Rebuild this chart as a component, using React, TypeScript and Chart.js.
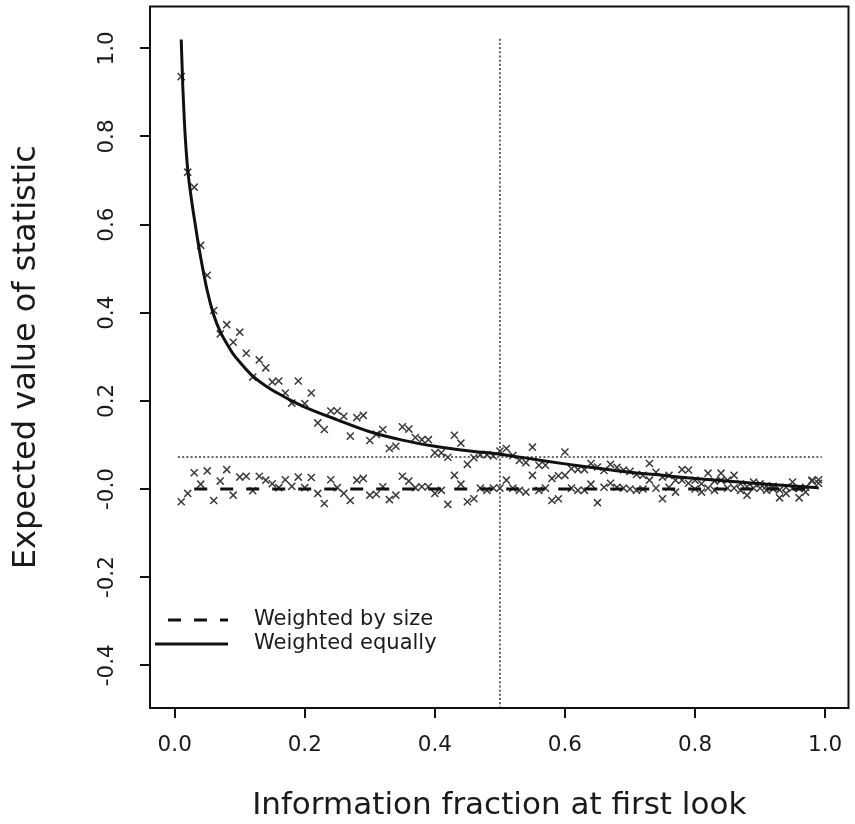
import React, { useEffect, useRef } from "react";
import { Chart, registerables } from "chart.js";

Chart.register(...registerables);

const FONT = "'DejaVu Sans', 'Liberation Sans', sans-serif";
const INK = "#1a1a1a";

const xTicks = [0, 0.2, 0.4, 0.6, 0.8, 1.0];
const xTickLabels = ["0.0", "0.2", "0.4", "0.6", "0.8", "1.0"];
const yTicks = [-0.4, -0.2, 0, 0.2, 0.4, 0.6, 0.8, 1.0];
const yTickLabels = ["-0.4", "-0.2", "-0.0", "0.2", "0.4", "0.6", "0.8", "1.0"];

// smooth curve, weighted equally
const curveX = [0.01, 0.0125, 0.015, 0.0175, 0.02, 0.025, 0.03, 0.035, 0.04, 0.05, 0.06, 0.07, 0.08, 0.09, 0.1, 0.12, 0.14, 0.16, 0.18, 0.2, 0.25, 0.3, 0.35, 0.4, 0.45, 0.5, 0.55, 0.6, 0.65, 0.7, 0.75, 0.8, 0.85, 0.9, 0.95, 0.99];
const curveY = [1.02, 0.91, 0.83, 0.77, 0.725, 0.665, 0.615, 0.568, 0.525, 0.45, 0.395, 0.357, 0.33, 0.306, 0.288, 0.256, 0.234, 0.216, 0.2, 0.186, 0.157, 0.13, 0.111, 0.097, 0.087, 0.079, 0.068, 0.057, 0.047, 0.038, 0.031, 0.024, 0.018, 0.012, 0.007, 0.003];

// dashed line, weighted by size
const dashX = [0.03, 0.99];
const dashY = [0, 0];

// reference lines
const hRefX = [0.005, 0.995];
const hRefY = [0.0726, 0.0726];
const vRefX = [0.5, 0.5];
const vRefY = [1.022, -0.497];

// simulated points
const crossX = [0.01, 0.02, 0.03, 0.04, 0.05, 0.06, 0.07, 0.08, 0.09, 0.1, 0.11, 0.12, 0.13, 0.14, 0.15, 0.16, 0.17, 0.18, 0.19, 0.2, 0.21, 0.22, 0.23, 0.24, 0.25, 0.26, 0.27, 0.28, 0.29, 0.3, 0.31, 0.32, 0.33, 0.34, 0.35, 0.36, 0.37, 0.38, 0.39, 0.4, 0.41, 0.42, 0.43, 0.44, 0.45, 0.46, 0.47, 0.48, 0.49, 0.5, 0.51, 0.52, 0.53, 0.54, 0.55, 0.56, 0.57, 0.58, 0.59, 0.6, 0.61, 0.62, 0.63, 0.64, 0.65, 0.66, 0.67, 0.68, 0.69, 0.7, 0.71, 0.72, 0.73, 0.74, 0.75, 0.76, 0.77, 0.78, 0.79, 0.8, 0.81, 0.82, 0.83, 0.84, 0.85, 0.86, 0.87, 0.88, 0.89, 0.9, 0.91, 0.92, 0.93, 0.94, 0.95, 0.96, 0.97, 0.98, 0.99];
const crossEqual = [0.936, 0.719, 0.685, 0.553, 0.485, 0.405, 0.352, 0.373, 0.333, 0.356, 0.308, 0.254, 0.293, 0.275, 0.243, 0.245, 0.218, 0.195, 0.245, 0.194, 0.218, 0.15, 0.135, 0.177, 0.177, 0.165, 0.12, 0.162, 0.167, 0.11, 0.124, 0.135, 0.092, 0.097, 0.141, 0.136, 0.117, 0.112, 0.112, 0.082, 0.082, 0.072, 0.122, 0.104, 0.056, 0.071, 0.078, 0.078, 0.075, 0.086, 0.092, 0.076, 0.065, 0.06, 0.095, 0.054, 0.054, 0.024, 0.03, 0.084, 0.046, 0.044, 0.044, 0.058, 0.05, 0.042, 0.056, 0.049, 0.043, 0.04, 0.033, 0.031, 0.058, 0.038, 0.027, 0.031, 0.02, 0.044, 0.043, 0.02, 0.012, 0.036, 0.018, 0.036, 0.02, 0.031, 0.012, 0.005, 0.016, 0.012, 0.007, 0.006, -0.002, 0.004, 0.016, 0.001, 0.004, 0.018, 0.021];
const crossSize = [-0.029, -0.01, 0.037, 0.011, 0.041, -0.026, 0.018, 0.044, -0.014, 0.027, 0.029, -0.004, 0.029, 0.02, 0.012, 0.003, 0.021, 0.006, 0.027, 0.003, 0.026, -0.01, -0.033, 0.021, 0.003, -0.01, -0.026, 0.02, 0.024, -0.014, -0.012, 0.005, -0.024, -0.014, 0.029, 0.018, 0.003, 0.005, 0.005, -0.01, -0.003, -0.035, 0.031, 0.011, -0.029, -0.022, 0.002, -0.003, 0.002, 0.002, 0.02, 0.002, -0.003, -0.007, 0.031, -0.003, 0.002, -0.026, -0.022, 0.031, 0.002, -0.003, -0.003, 0.011, -0.031, 0.004, 0.013, 0.004, 0.002, 0, -0.003, 0, 0.02, 0.002, -0.022, 0.004, -0.007, 0.02, 0.013, 0, -0.007, 0.002, -0.003, 0.02, 0.002, 0.002, -0.003, -0.014, 0.002, 0.002, -0.003, 0, -0.02, -0.01, 0.002, -0.02, -0.007, 0.02, 0.013];

const legendLabels = ["Weighted by size", "Weighted equally"];

const pts = (xs: number[], ys: number[]) => xs.map((x, i) => ({ x, y: ys[i] }));

const framePlugin = {
  id: "frameAndLegend",
  afterDatasetsDraw(chart: any) {
    const { ctx, chartArea } = chart;
    const { left, right, top, bottom } = chartArea;
    ctx.save();
    // legend (inside plot, bottom-left)
    ctx.strokeStyle = "#111";
    ctx.lineWidth = 3;
    ctx.setLineDash([13, 13]);
    ctx.beginPath();
    ctx.moveTo(left + 18, bottom - 88);
    ctx.lineTo(left + 78, bottom - 88);
    ctx.stroke();
    ctx.setLineDash([]);
    ctx.beginPath();
    ctx.moveTo(left + 5, bottom - 64);
    ctx.lineTo(left + 78, bottom - 64);
    ctx.stroke();
    ctx.font = `21px ${FONT}`;
    ctx.fillStyle = INK;
    ctx.textAlign = "left";
    ctx.textBaseline = "alphabetic";
    ctx.fillText(legendLabels[0], left + 104, bottom - 83);
    ctx.fillText(legendLabels[1], left + 104, bottom - 59);
    // box
    ctx.lineWidth = 2;
    ctx.strokeStyle = "#111";
    ctx.strokeRect(left, top, right - left, bottom - top);
    ctx.restore();
  },
};

const zeroPad = (s: any) => {
  s.paddingTop = 0;
  s.paddingBottom = 0;
  s.paddingLeft = 0;
  s.paddingRight = 0;
};

export default function App() {
  const ref = useRef<HTMLCanvasElement>(null);
  useEffect(() => {
    const gridOpts = {
      drawOnChartArea: false,
      drawTicks: true,
      tickLength: 10,
      tickWidth: 2,
      tickColor: "#111",
      lineWidth: 2,
      color: "#111",
    };
    const chart = new Chart(ref.current!, {
      type: "scatter",
      data: {
        datasets: [
          {
            label: legendLabels[1],
            data: pts(curveX, curveY),
            showLine: true,
            borderColor: "#111",
            borderWidth: 3,
            pointRadius: 0,
            cubicInterpolationMode: "monotone",
            fill: false,
          },
          {
            label: legendLabels[0],
            data: pts(dashX, dashY),
            showLine: true,
            borderColor: "#111",
            borderWidth: 3,
            borderDash: [13, 13],
            pointRadius: 0,
            fill: false,
          },
          {
            label: "h-ref",
            data: pts(hRefX, hRefY),
            showLine: true,
            borderColor: "#333",
            borderWidth: 1.5,
            borderDash: [2, 2.2],
            pointRadius: 0,
          },
          {
            label: "v-ref",
            data: pts(vRefX, vRefY),
            showLine: true,
            borderColor: "#333",
            borderWidth: 1.5,
            borderDash: [2, 2.2],
            pointRadius: 0,
          },
          {
            label: "equal-pts",
            data: pts(crossX, crossEqual),
            showLine: false,
            pointStyle: "crossRot",
            pointRadius: 5,
            borderColor: "#3a3a3a",
            backgroundColor: "#3a3a3a",
            borderWidth: 1.5,
          },
          {
            label: "size-pts",
            data: pts(crossX, crossSize),
            showLine: false,
            pointStyle: "crossRot",
            pointRadius: 5,
            borderColor: "#3a3a3a",
            backgroundColor: "#3a3a3a",
            borderWidth: 1.5,
          },
        ] as any,
      },
      options: {
        animation: false,
        responsive: false,
        layout: { padding: { top: 6, right: 3, left: 0, bottom: 0 } },
        plugins: { legend: { display: false }, tooltip: { enabled: false } },
        scales: {
          x: {
            type: "linear",
            min: -0.038,
            max: 1.036,
            afterBuildTicks: (s: any) => {
              s.ticks = xTicks.map((v) => ({ value: v }));
            },
            afterFit: (s: any) => {
              s.height = 116;
              zeroPad(s);
            },
            grid: gridOpts,
            border: { display: false },
            ticks: {
              autoSkip: false,
              minRotation: 0,
              maxRotation: 0,
              padding: 15,
              color: INK,
              font: { family: FONT, size: 21.5 },
              callback: (_v: any, i: number) => xTickLabels[i],
            },
            title: {
              display: true,
              text: "Information fraction at first look",
              color: INK,
              font: { family: FONT, size: 31, lineHeight: 1 },
              padding: { top: 0, bottom: 2.5 },
            },
          },
          y: {
            type: "linear",
            min: -0.497,
            max: 1.095,
            afterBuildTicks: (s: any) => {
              s.ticks = yTicks.map((v) => ({ value: v }));
            },
            afterFit: (s: any) => {
              s.width = 150;
              zeroPad(s);
            },
            grid: gridOpts,
            border: { display: false },
            ticks: {
              autoSkip: false,
              minRotation: 90,
              maxRotation: 90,
              crossAlign: "center",
              padding: 12,
              color: INK,
              font: { family: FONT, size: 21.5 },
              callback: (_v: any, i: number) => yTickLabels[i],
            },
            title: {
              display: true,
              text: "Expected value of statistic",
              color: INK,
              font: { family: FONT, size: 32, lineHeight: 1 },
              padding: { top: 11, bottom: 0 },
            },
          },
        },
      } as any,
      plugins: [framePlugin],
    });
    return () => chart.destroy();
  }, []);
  return (
    <div style={{ position: "fixed", left: 0, top: 0, width: 855, height: 824, background: "#fff" }}>
      <canvas ref={ref} width={855} height={824} style={{ display: "block" }} />
    </div>
  );
}
